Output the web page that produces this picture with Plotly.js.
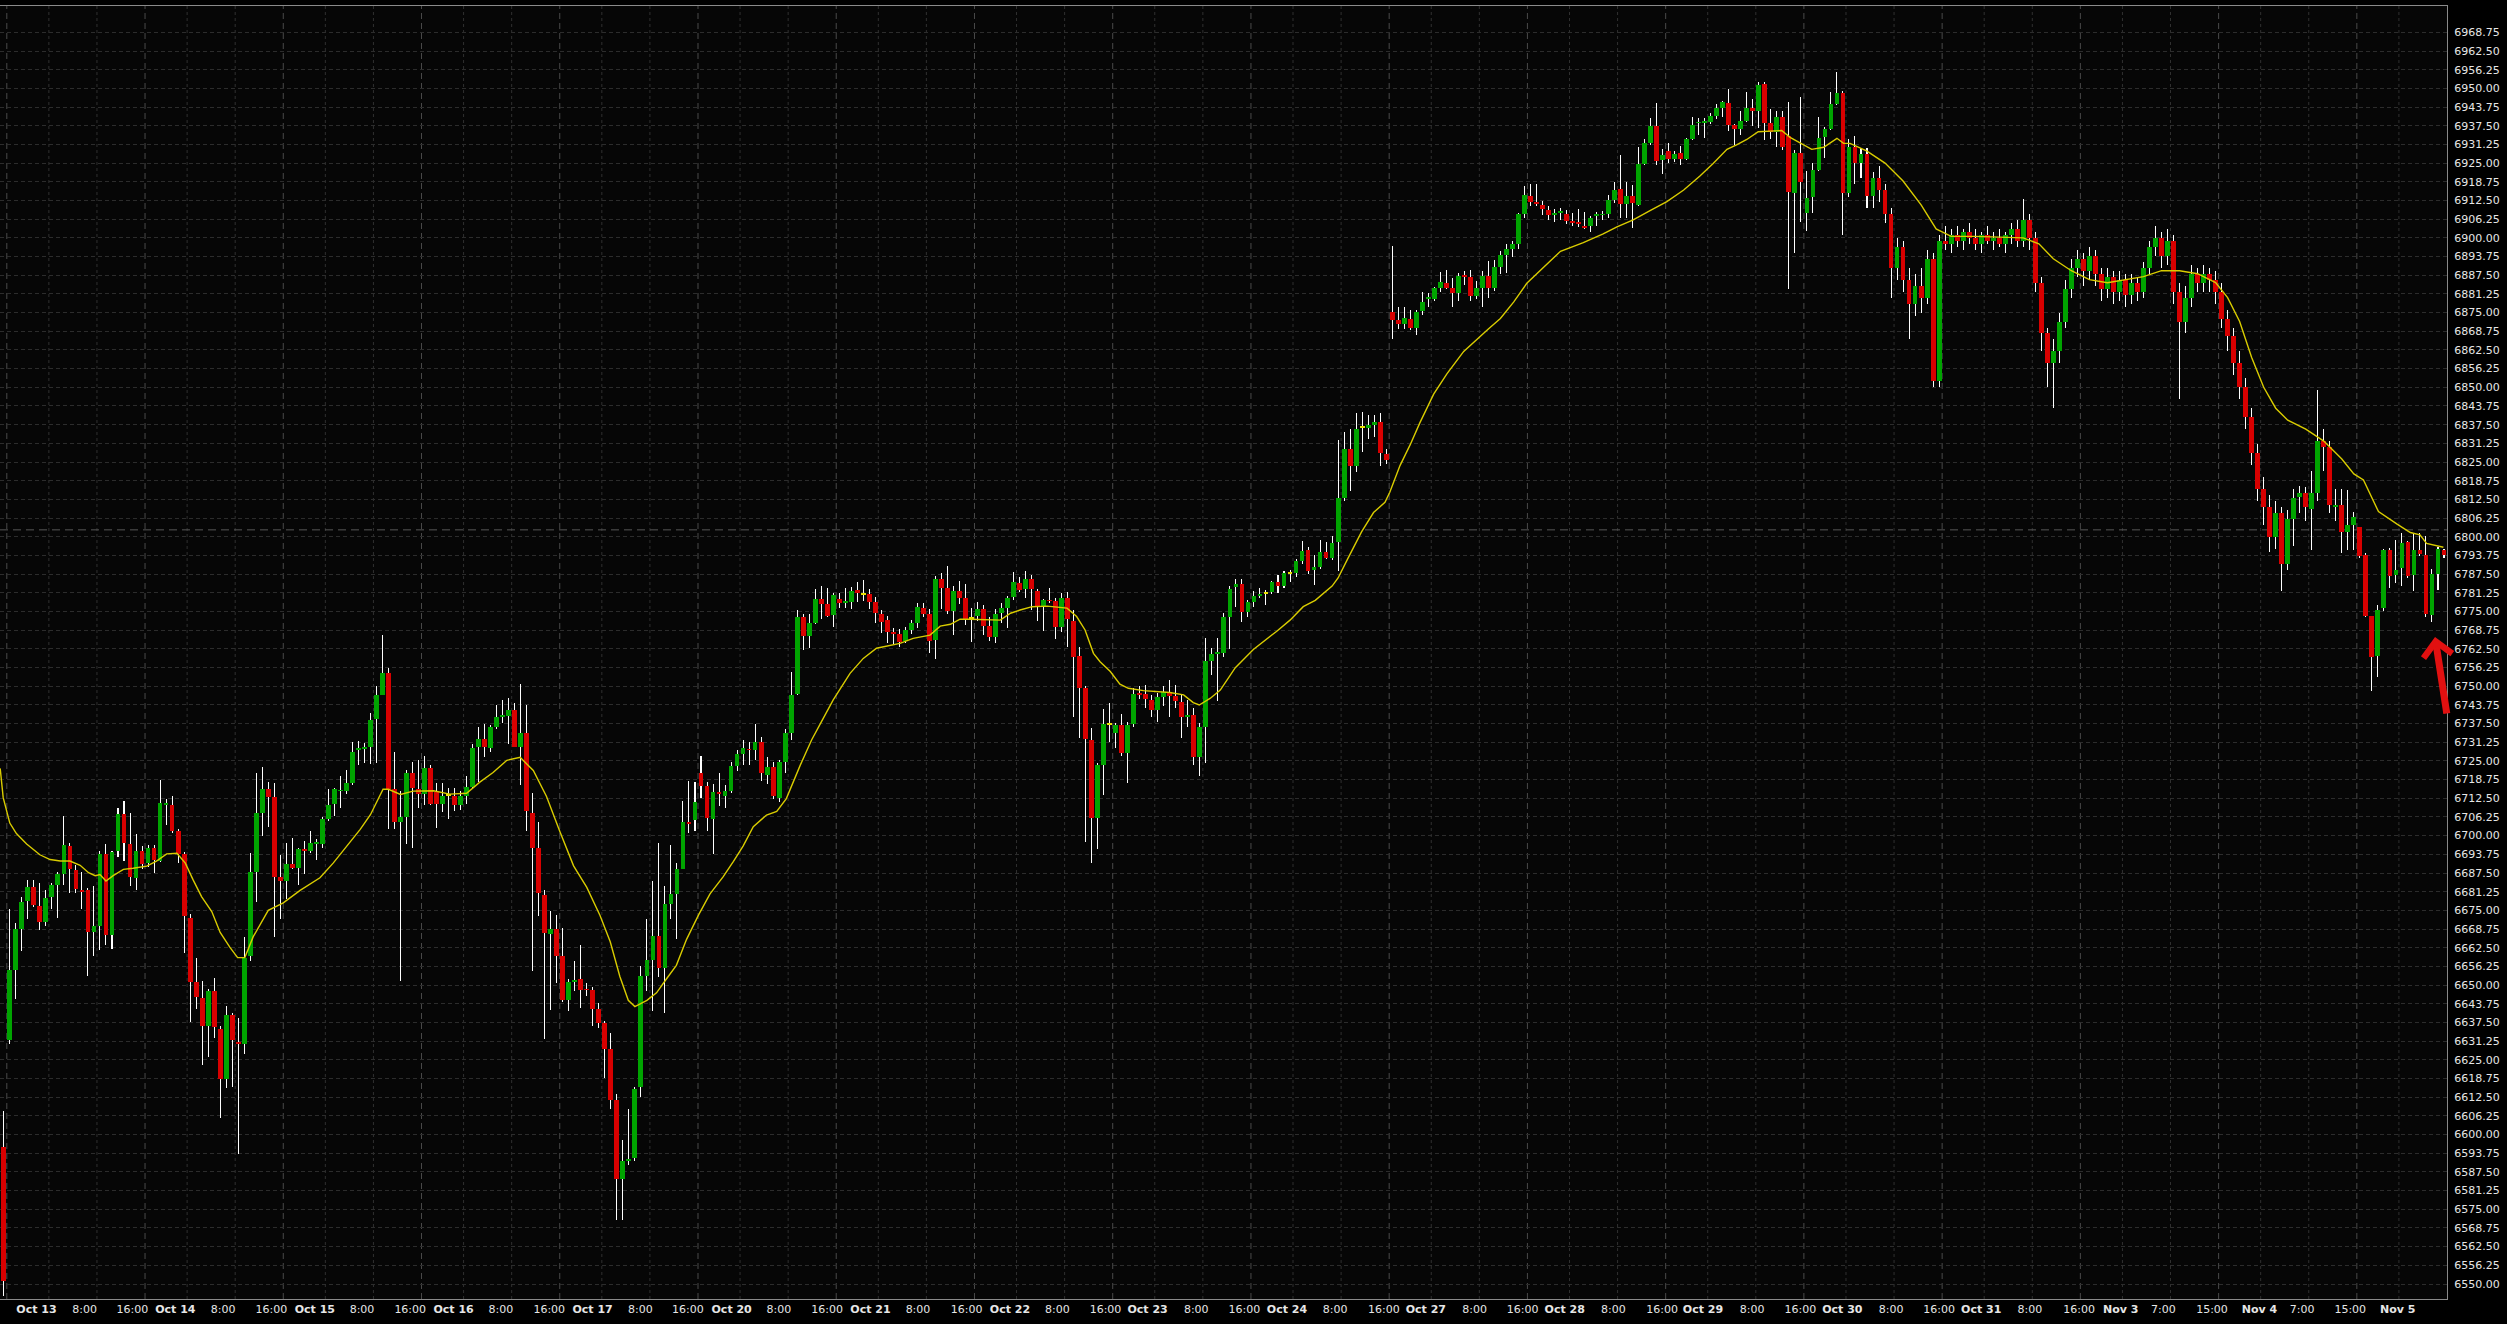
<!DOCTYPE html>
<html><head><meta charset="utf-8">
<script src="https://cdn.plot.ly/plotly-3.0.1.min.js"></script>
<style>html,body{margin:0;padding:0;background:#000;}#chart{width:2507px;height:1324px;}</style>
</head><body><div id="chart"></div>
<script>
const open = [6596,6631.7,6655.2,6668.6,6678.3,6682.7,6676.5,6671.1,6679.6,6683.4,
6687.3,6696.6,6688.4,6681.7,6681.7,6667.6,6669.7,6693.7,6666.6,6695,
6707.4,6697.2,6685.9,6694.8,6690.8,6695.8,6691.5,6710.3,6710.4,6701.4,
6693.7,6672.4,6651,6645.8,6636.3,6647.9,6635.2,6618.6,6640.1,6631,
6630.4,6659.9,6688,6707.7,6715.5,6713,6686.2,6684.8,6690.6,6689.3,
6695.5,6695,6697.2,6697.2,6705.6,6710.6,6714.8,6714.8,6717.6,6728.6,
6729,6729.5,6739,6747.2,6754.5,6715.5,6704.5,6706.3,6720.8,6715.6,
6713.9,6722.6,6714.6,6710.7,6713.4,6713.4,6710.1,6713.2,6716.3,6729.8,
6732.3,6729.4,6736.4,6739.7,6740,6742,6729.8,6734.2,6707.6,6696,
6680.2,6667.2,6668.6,6659.8,6645,6651.2,6652.2,6648.6,6648.2,6642.1,
6637.3,6628.6,6611.6,6585.1,6591.3,6592.3,6616,6653.2,6658.5,6666.4,
6655.8,6677.2,6680.5,6688.9,6704.4,6705.2,6721.1,6716.5,6705.6,6714.6,
6713.4,6714.9,6723.3,6727.4,6729,6728.5,6731.3,6720.4,6723,6712.7,
6724.5,6734.5,6747.5,6773,6766.8,6771.2,6779.2,6777.5,6773.8,6779.1,
6777.9,6778.3,6782.2,6780.5,6780.8,6778.1,6774.2,6772.1,6768,6767.5,
6765.2,6768.8,6771,6776.3,6774.2,6765.4,6785.9,6782.7,6775.3,6782,
6779.4,6772.4,6773.5,6775.7,6770.1,6766.6,6774.6,6776,6779.7,6784.4,
6782.4,6785.8,6782,6776.6,6778.8,6778.6,6769.7,6779.4,6771.9,6760.1,
6749.3,6732,6705.8,6723.6,6737,6734.4,6737,6727.5,6737.2,6747.4,
6747.4,6745.4,6742,6746.5,6748.2,6746.7,6744.8,6739.6,6740.4,6726.2,
6736.5,6758.4,6760.8,6761.2,6773.2,6783.1,6784.2,6774.9,6778.3,6780.1,
6781,6781.4,6784.8,6783.5,6787.6,6787.8,6791.9,6795.5,6788.9,6789.9,
6794.8,6793,6798.1,6812.8,6829.5,6823.5,6836.3,6836.3,6837.4,6838.4,
6827.6,6875.2,6872.5,6871.1,6872.9,6869.9,6875.4,6879.5,6879.7,6883.2,
6884.9,6883.2,6881.5,6887.5,6887,6880.4,6883.2,6887.2,6883.2,6890.4,
6894.4,6896.1,6897.9,6908,6913.9,6912.1,6910.9,6909.4,6907.6,6908.4,
6908.1,6905.7,6905.3,6903.9,6904,6907.3,6907.5,6908,6912.8,6916.2,
6911.3,6914,6911,6924.7,6931.8,6937.4,6926,6929,6926.5,6928.3,
6926.3,6932.9,6938.3,6938.5,6938.9,6940.8,6943.5,6945.2,6937.7,6936.4,
6939.1,6943.3,6942.5,6951.5,6938.5,6935.5,6940.3,6934.1,6915.1,6928.3,
6908.4,6913.8,6922.7,6933.6,6936.3,6944.8,6948.3,6914.9,6930.3,6925,
6928,6914,6920,6916,6908,6890,6897,6886,6878,6884,
6880,6893,6852,6899,6898,6901,6899,6902,6900,6898,
6901,6899,6900,6898,6901,6903,6899,6906,6900,6885,
6868,6858,6862,6872,6883,6890,6893,6889,6894,6888,
6883,6887,6882,6886,6881,6885,6882,6890,6897,6900,
6894,6899,6882,6872,6880,6888,6885,6888,6886,6882,
6873,6867,6858,6850,6840,6828,6816,6810,6800,6808,
6791,6806,6813.4,6814.5,6809.2,6814.5,6832,6830,6810.1,6810.6,
6801.7,6803.9,6803.2,6793.9,6773.5,6760.1,6776.1,6795.6,6787.2,6789.5,
6798.4,6787.2,6795.6,6793.9,6773.8,6787.7,6795.6];
const high = [6608,6675.3,6670.7,6679.4,6685,6685,6684.2,6681.7,6684.2,6688,
6706.6,6697.6,6690.1,6688,6682.5,6683,6695,6697.2,6695,6709.4,
6711.5,6707.7,6700.7,6696.5,6696.9,6696.8,6718.6,6712.4,6713.4,6702.1,
6694.6,6673.9,6658.9,6651.4,6648.6,6652.4,6636.3,6643,6640.5,6639,
6666.2,6694.3,6721.1,6722.8,6718,6717.6,6693.6,6697.5,6699.3,6696,
6698.3,6701.7,6698.8,6706.3,6715.5,6715.8,6720,6721.8,6731.3,6731.7,
6731,6741.1,6750,6767.2,6756,6727.9,6714.8,6721.8,6724.6,6725.2,
6726.6,6723.5,6717.5,6717.5,6716.1,6715.8,6715,6720.1,6730.8,6736.4,
6737.4,6737.1,6743.6,6745.5,6746.1,6744.3,6750.6,6743.6,6714.2,6704.7,
6681.7,6674.7,6673.5,6669.2,6652.2,6658,6663.4,6650.8,6649.3,6644,
6638.1,6634.1,6613.5,6598.1,6608.7,6616,6656.3,6672.1,6684.9,6697.6,
6683.1,6696.9,6690.9,6711.7,6718.2,6717.9,6726.6,6717.9,6717.2,6721.1,
6716.8,6724.7,6728.8,6732,6731.3,6737.5,6733,6726.2,6724.7,6725.2,
6735.6,6754.8,6775.5,6774.1,6774.1,6782.4,6783.5,6782.7,6781.1,6781.1,
6782.7,6783.3,6785,6785.5,6782.4,6779.9,6775.5,6773.5,6769.4,6769,
6769.7,6772.1,6777.9,6777.9,6775.7,6786.9,6788,6790.2,6783.5,6785.2,
6784.2,6776,6778.3,6777.2,6773,6775.7,6777.9,6780.2,6788.3,6786.6,
6788.7,6787.2,6782.4,6779.1,6782.7,6779.4,6781.1,6781.6,6775.5,6763.2,
6750.1,6735.9,6724.2,6742.3,6744.3,6737.6,6740.7,6738.1,6749.3,6750.1,
6750.4,6747.1,6747.6,6750.1,6752.1,6750.4,6747.1,6745.4,6742.6,6737.6,
6766,6762.7,6766,6774.6,6783.5,6785.8,6785.8,6779,6781.7,6782.8,
6782.1,6785.2,6787.2,6788.5,6788.9,6792.6,6798.5,6796.4,6794,6798.9,
6798.1,6800.3,6832.2,6835,6836.1,6841.3,6841.8,6840.8,6840.8,6841.3,
6829.5,6897.2,6877,6877,6875.9,6875.9,6881.8,6881.4,6883.6,6888.6,
6889.3,6886.6,6888.2,6889,6889.3,6885.5,6889,6892.3,6892.7,6895.5,
6897.8,6899.1,6908.4,6917.3,6918,6918,6912.2,6910.5,6909.5,6910.1,
6909.4,6908.4,6909.8,6908.7,6907.3,6908.7,6909,6914.2,6918.7,6927.7,
6918.8,6917.7,6930.3,6932.9,6940,6945.2,6929.6,6931.6,6929.2,6930.7,
6933.3,6940.5,6940,6940,6941.7,6944.8,6945.9,6949.7,6938.1,6942.5,
6948.9,6946.3,6952.2,6952.2,6943,6942.5,6942.5,6945.6,6929.4,6947,
6922.5,6925.2,6940.5,6937,6948.9,6955.6,6949.2,6933,6934,6930,
6930,6922,6924,6918,6910,6900,6899,6890,6888,6890,
6896,6895,6901,6904,6903,6904,6903,6905,6903,6902,
6904,6902,6903,6902,6905,6906,6913,6908,6902,6887,
6870,6866,6875,6886,6893,6896,6895,6897,6896,6890,
6890,6889,6889,6888,6888,6887,6892,6899,6904,6902,
6903,6901,6885,6884,6891,6890,6891,6890,6889,6885,
6876,6870,6862,6853,6843,6831,6820,6814,6812,6810,
6809,6816,6817,6816.8,6822,6849,6836,6832,6815.9,6815.9,
6815.6,6808.4,6803.4,6794.5,6773.5,6777.2,6795.8,6796.1,6798.9,6801.4,
6798.6,6800.9,6801.1,6800.3,6789.1,6796.7,6796];
const low = [6546,6630.3,6645.4,6661.3,6672.1,6676,6668.3,6669.7,6675.3,6672.3,
6683.4,6680.7,6680.7,6675.3,6653.2,6659.8,6661.7,6663.4,6662,6692.9,
6691.5,6683.1,6681.7,6688.7,6689.4,6687.6,6691.3,6703.5,6701,6690.8,
6660.6,6637.7,6642,6623.3,6626.1,6632.4,6605.6,6615.5,6615.9,6593.5,
6627.1,6658,6677.7,6700,6702.8,6666.2,6672.1,6678.9,6688.7,6683.4,
6687.3,6694.3,6691.8,6695.8,6704.9,6706.7,6709.1,6713.8,6716.9,6723.5,
6724.2,6723.9,6724.2,6747.2,6702.1,6702.1,6651.4,6697.2,6695.8,6709.2,
6710.2,6710.2,6702.7,6707.8,6705.6,6708.1,6708.5,6710.7,6716.1,6717.9,
6726.2,6727.9,6735.6,6737.8,6730.5,6730.5,6717.1,6701.6,6654.7,6673,
6631.9,6641.6,6650.8,6644.5,6641.3,6647.9,6642.5,6646.4,6636.2,6635.5,
6618.9,6608.7,6571.4,6571.4,6589.8,6591.3,6612.6,6647.9,6641.3,6652.7,
6640.6,6672.1,6665.3,6688.9,6700.8,6701.5,6712.7,6701.5,6693.9,6709.8,
6709.2,6714.1,6721.6,6723.7,6723.7,6725.2,6718.2,6717.2,6712.4,6711.4,
6720.8,6732,6747.2,6762.2,6762.8,6770.7,6772.4,6773,6769.9,6776.1,
6776.1,6775.7,6778.3,6778.6,6775.7,6771.2,6767.7,6764.6,6764.1,6763,
6764.3,6767.5,6769.4,6773,6761.2,6759,6775.7,6774.2,6767.1,6777.5,
6770.5,6764.9,6771.9,6767.1,6765.2,6764.3,6771.2,6769.4,6778.8,6781.6,
6779.4,6775.5,6771.9,6768.6,6777.9,6765.7,6768.2,6763.2,6739.6,6732.5,
6698,6690.7,6695.4,6713.6,6731.4,6729.2,6726.6,6717.5,6736.2,6745.6,
6742.6,6739.6,6738.1,6743.4,6739.6,6742.6,6732.5,6736.2,6723.6,6719.9,
6724.2,6753.7,6745.1,6759.8,6762.3,6776.6,6771.6,6773.2,6776.6,6779.4,
6777.1,6780.7,6781.2,6782.8,6784.8,6786.6,6791,6787.6,6783.9,6789.3,
6792.6,6792.3,6788.5,6812.1,6815.3,6821.7,6828.5,6832.6,6833.3,6823.5,
6824.4,6866.1,6869.5,6869.5,6869.1,6867.5,6874.3,6877,6879,6881.8,
6882.8,6876.8,6879,6884.1,6879,6879.5,6877,6880,6882.2,6888,
6888.2,6893.7,6896.4,6906.8,6910.5,6910.5,6907.7,6906,6905.4,6906,
6904.6,6904,6903.6,6903,6901.9,6904,6906,6906.8,6911.8,6906.5,
6906.5,6903.2,6910.6,6924.4,6931.1,6924.4,6921.4,6924.9,6925.5,6924.4,
6926,6932.7,6934.4,6933.3,6938.1,6939.6,6940.5,6935.9,6931.1,6934.4,
6938.9,6937.4,6936.6,6932.7,6932.9,6930.3,6929.4,6882.8,6894.8,6905.4,
6902.4,6908.2,6922.5,6926.6,6936.1,6944.4,6900.9,6913.8,6918,6920,
6910,6910,6912,6905,6880,6886,6882,6866,6874,6875,
6878,6850,6850,6896,6895,6897,6896,6898,6896,6895,
6898,6896,6897,6895,6898,6897,6897,6896,6882,6862,
6850,6843,6858,6870,6880,6887,6884,6886,6884,6879,
6880,6878,6879,6877,6878,6879,6880,6888,6894,6890,
6891,6878,6846,6868,6877,6882,6882,6882,6878,6870,
6862,6854,6846,6836,6824,6812,6804,6795,6796,6782,
6789,6797,6808,6805.1,6795.6,6812,6822,6808,6805.1,6794.7,
6795.6,6795.6,6792.8,6773,6748.5,6753,6775.3,6782.8,6784.4,6783.5,
6786.1,6782,6793.6,6773.3,6771.6,6782.2,6792.8];
const close = [6551,6654.9,6668.7,6677.9,6682.7,6676.7,6671.1,6679.2,6683.4,6687.3,
6696.9,6689,6682,6681.3,6667.9,6669.7,6694,6666.9,6694.6,6707.4,
6697.6,6686.2,6694.8,6690.4,6695.8,6692,6710.8,6710.8,6701.4,6693.7,
6673,6651,6646,6636.3,6647.9,6635.9,6618.6,6640.1,6631.7,6630.4,
6659,6688,6707.7,6715.5,6713,6686.3,6684.8,6690.6,6689.3,6695.5,
6695,6697.6,6697.6,6705.6,6710.1,6715.5,6715.2,6717.6,6728.1,6729.3,
6729.5,6738.7,6746.9,6754.5,6715.5,6704.5,6706.3,6720.8,6715.8,6713.9,
6722.6,6710.7,6710.7,6713.2,6713.4,6710.1,6713.2,6716.3,6729.4,6732.3,
6729.8,6736.4,6739.6,6740.3,6742,6729.8,6734.2,6708.1,6696,6680.8,
6667.5,6668.6,6659.9,6645,6651.2,6651.8,6648.3,6648.2,6642.1,6637.3,
6628.6,6611.6,6585.1,6591.3,6591.9,6615.2,6653.2,6658.5,6666.4,6655.6,
6677.2,6680.5,6688.9,6704.4,6703.9,6711.3,6716.5,6705.9,6714.6,6713.9,
6714.9,6723.3,6727.4,6729.4,6728.5,6731.3,6720.8,6723,6713.2,6724.5,
6734.2,6747.2,6773,6766.8,6771.2,6779.2,6777.5,6773.5,6780.5,6777.9,
6778.3,6782,6781.1,6780.5,6778.3,6774.6,6771.6,6768.2,6767.6,6764.9,
6768.8,6771,6776.4,6774.2,6765.2,6785.9,6782.7,6775.3,6782,6779.4,
6772.4,6772.4,6775.7,6770.1,6766.6,6774.2,6776,6779.4,6784.7,6782.2,
6785.8,6782.4,6776.8,6778.8,6778.4,6769.7,6779.4,6772.4,6759.9,6749.3,
6732.2,6705.8,6723.6,6737.3,6737,6737,6727.5,6737,6747.4,6747,
6745.6,6742,6746.3,6748.2,6746.7,6745,6739.6,6740,6726.2,6736.5,
6758.4,6760.8,6761.2,6773.2,6782.5,6784.2,6774.9,6778,6780.1,6781,
6781,6784.8,6783.5,6787.8,6787.6,6791.9,6795.1,6788.5,6789.9,6794.8,
6793,6797.8,6812.8,6829.5,6823.8,6836.1,6836.3,6837.4,6838.4,6827.9,
6825.8,6872.6,6871.1,6873.2,6869.9,6875.2,6878.7,6880,6883.2,6885.2,
6883.2,6881.5,6887.2,6887,6880.7,6883.2,6887.2,6883.2,6890.4,6894.1,
6896.1,6897.9,6908,6914.2,6912.1,6911.4,6909.5,6907.7,6908,6908.8,
6905.7,6905.1,6904.6,6903.4,6906.8,6907.7,6908,6912.8,6916,6911.3,
6914,6911.5,6924.7,6931.8,6937.4,6925.8,6927.7,6926.3,6928,6926.3,
6932.9,6937.7,6938.9,6939.1,6940.8,6943.3,6945.3,6937.7,6936.4,6939.1,
6943.3,6942.5,6951.1,6938.5,6935.5,6940.3,6930.5,6915.4,6928.3,6918.8,
6913.2,6922.7,6933.3,6936.3,6944.8,6948.3,6914.9,6930.3,6925,6928,
6914,6920,6916,6908,6890,6897,6886,6878,6884,6880,
6893,6852,6899,6898,6901,6899,6902,6900,6898,6901,
6899,6900,6898,6901,6903,6899,6906,6900,6885,6868,
6858,6862,6872,6883,6890,6893,6889,6894,6888,6883,
6887,6882,6886,6881,6885,6882,6890,6897,6900,6894,
6899,6882,6872,6880,6888,6885,6888,6886,6882,6873,
6867,6858,6850,6840,6828,6816,6810,6800,6808,6791,
6806,6813,6814.5,6809.8,6814.5,6832,6830,6810.5,6810.6,6801.7,
6803.9,6806.7,6793.6,6773.5,6759.9,6775.5,6795.6,6787,6788.9,6798,
6787,6795.4,6794.2,6774.2,6787.4,6795.9,6793.9];

const maX = [-0.6,-0.1,1,2.1,3.8,6,7.7,9.4,11,12.7,14.1,15.2,16,17,18.2,19.9,21.5,23.8,25.4,27.1,28.8,30.2,31.5,32.9,34.6,36,37.6,38.9,40.1,41.5,44,46.5,49.3,52.6,54.8,57.1,59.3,61,63.1,64,66,68.1,71.5,74.2,77,79.2,81.4,83.7,85.9,88.1,90.3,92.5,94.8,97,99.2,100.9,102.5,103.9,105,107,108.6,110.3,111.9,113.6,115.6,117.5,119.7,121.4,123,124.7,126.9,128.6,130.2,132.5,134.4,136,138,140.8,143,145.2,147.2,149.1,151.3,154.1,155.8,157.5,159.1,160.8,165.8,167.5,169.1,171.1,173.6,176.9,178.5,179.9,181.3,182.4,184.1,185.7,187.1,189.6,194,196.3,197.9,198.9,200.7,202.4,204.9,207.9,211.8,214,216.2,218.2,221,222,223.7,225.9,227.9,229.8,230.6,232.3,234,235.6,237.9,240.1,242.9,245.1,247,249,251.2,253.4,256.2,259,262.8,266.1,268.4,271.1,273.9,276.7,279.5,282.2,284.4,286.7,288.3,290,291.9,293.9,295.8,297.2,298.9,300.8,302.8,305,306.1,307.2,310,313,316,319,321.5,324,328,332,336,338.6,341,344,347,350,353,356,359,362,365,368,370,372,374,376,378,380,383,386,389,391,392.6,395.1,398.2,400.4,402,403.1,405.9];
const maY = [6722.5,6712.7,6704.2,6700.7,6697.2,6693.6,6692,6691.5,6691.5,6690.1,6687.6,6686.6,6687,6684.8,6686.6,6688.7,6689.1,6689.8,6691.5,6693.9,6694.1,6690.8,6685.2,6679.6,6674.6,6667.6,6662.7,6659.2,6659.2,6666.2,6675,6677.5,6681.7,6685.9,6690.8,6696.5,6702.1,6707,6715.5,6715.5,6713.8,6714.9,6715,6713.9,6714.2,6717.9,6721.1,6725.2,6726.2,6721.8,6713.1,6701.5,6689.9,6682.7,6673.3,6664.5,6652.9,6644.9,6642.8,6644.9,6647.4,6652.2,6656.6,6665.3,6673.5,6680.5,6686.3,6691.4,6696.5,6703,6706.9,6708.1,6712.4,6723.5,6732,6738,6745.4,6754.3,6759.3,6762.7,6763.4,6764.3,6766,6767.1,6770.1,6770.7,6772.4,6772.4,6772.1,6774.4,6775.5,6776.6,6776.8,6776.1,6773.3,6768.8,6761,6758.2,6754.9,6750.7,6749.3,6748.5,6747.9,6747.1,6744.5,6743.7,6745.9,6748.7,6756.2,6762.3,6768.4,6772.1,6776.6,6778.7,6783.5,6786.2,6793,6801.6,6808.1,6811.5,6814.9,6823.8,6830.8,6838.1,6847.7,6854.5,6862,6866.1,6869.5,6873,6878.5,6884.8,6890.3,6895.5,6898.4,6901.3,6903.7,6906,6909.1,6912.1,6916,6920.7,6924.9,6929.6,6931.1,6932.9,6935.5,6935.7,6935.9,6933.6,6931.8,6929.6,6930.3,6933.3,6931.6,6931.6,6929,6925,6919,6911,6903,6900.5,6900.5,6900.3,6900,6898,6893,6889,6886,6885,6886,6887,6889,6889,6888,6885,6880,6872,6860,6850,6843,6839,6836,6832,6826,6821,6819,6808.4,6804.2,6801.4,6800.6,6797.8,6796.5];

const xTickVals = [5.44,13.46,21.4,28.54,36.5,44.53,51.75,59.6,67.62,74.84,82.7,90.75,97.97,105.9,113.8,121.1,128.95,137.0,144.2,152.1,160.2,167.4,175.3,183.3,190.3,198.4,206.4,213.5,221.5,229.6,236.6,244.7,252.7,259.7,267.8,275.9,282.7,290.9,298.9,305.9,314.0,322.0,329.0,337.1,345.3,352.2,359.3,367.4,375.3,382.4,390.4,398.3];
const xTickText = ['<b>Oct 13</b>','8:00','16:00','<b>Oct 14</b>','8:00','16:00','<b>Oct 15</b>','8:00','16:00','<b>Oct 16</b>','8:00','16:00','<b>Oct 17</b>','8:00','16:00','<b>Oct 20</b>','8:00','16:00','<b>Oct 21</b>','8:00','16:00','<b>Oct 22</b>','8:00','16:00','<b>Oct 23</b>','8:00','16:00','<b>Oct 24</b>','8:00','16:00','<b>Oct 27</b>','8:00','16:00','<b>Oct 28</b>','8:00','16:00','<b>Oct 29</b>','8:00','16:00','<b>Oct 30</b>','8:00','16:00','<b>Oct 31</b>','8:00','16:00','<b>Nov 3</b>','7:00','15:00','<b>Nov 4</b>','7:00','15:00','<b>Nov 5</b>'];
const yTickVals = [6550,6556.25,6562.5,6568.75,6575,6581.25,6587.5,6593.75,6600,6606.25,6612.5,6618.75,6625,6631.25,6637.5,6643.75,6650,6656.25,6662.5,6668.75,6675,6681.25,6687.5,6693.75,6700,6706.25,6712.5,6718.75,6725,6731.25,6737.5,6743.75,6750,6756.25,6762.5,6768.75,6775,6781.25,6787.5,6793.75,6800,6806.25,6812.5,6818.75,6825,6831.25,6837.5,6843.75,6850,6856.25,6862.5,6868.75,6875,6881.25,6887.5,6893.75,6900,6906.25,6912.5,6918.75,6925,6931.25,6937.5,6943.75,6950,6956.25,6962.5,6968.75];
const crossPrice = 6802.3;

const GREEN = '#00a400', RED = '#d80000', YELLOW = '#e8e000';
const idx = open.map((_, i) => i);
const bodyBase = open.map((o, i) => Math.min(o, close[i]));
const bodySize = open.map((o, i) => Math.max(Math.abs(close[i] - o), 0.6));
const bodyColor = open.map((o, i) => close[i] > o ? GREEN : (close[i] < o ? RED : YELLOW));
const wickBase = low.slice();
const wickSize = high.map((h, i) => h - low[i]);

const traces = [
  {type:'bar', x: idx, base: wickBase, y: wickSize, width: 0.17,
   marker:{color:'#ffffff', line:{width:0}}, hoverinfo:'skip'},
  {type:'bar', x: idx, base: bodyBase, y: bodySize, width: 0.8,
   marker:{color: bodyColor, line:{width:0}}, hoverinfo:'skip'},
  {type:'scatter', mode:'lines', x: maX, y: maY,
   line:{color:'#d9cc00', width:1.4}, hoverinfo:'skip'}
];

const shapes = [];
for (let k = 0; k < 18; k++) {
  const d = 0.5 + 23 * k;
  shapes.push({type:'line', xref:'x', yref:'paper', x0:d, x1:d, y0:0, y1:1, layer:'below',
    line:{color:'#4a4a4a', width:1, dash:'6px,4px'}});
  [7, 15].forEach(o => {
    if (d + o < 406) shapes.push({type:'line', xref:'x', yref:'paper', x0:d+o, x1:d+o, y0:0, y1:1, layer:'below',
      line:{color:'#303030', width:1, dash:'3px,3px'}});
  });
}
shapes.push({type:'line', xref:'paper', yref:'y', x0:0, x1:1, y0:crossPrice, y1:crossPrice, layer:'below',
  line:{color:'#585858', width:1, dash:'8px,5px'}});

const layout = {
  width: 2507, height: 1324,
  paper_bgcolor:'#000000', plot_bgcolor:'#060606',
  margin:{l:0, r:60, t:6, b:25, pad:0},
  showlegend:false, barmode:'overlay', bargap:0,
  xaxis:{type:'linear', range:[-0.632, 406.5], tickmode:'array', tickvals:xTickVals, ticktext:xTickText,
    showgrid:false, zeroline:false, showline:true, mirror:true, linecolor:'#8a8a8a', linewidth:1,
    ticks:'', tickangle:0, tickfont:{family:'DejaVu Sans', size:11, color:'#e6e6e6'}},
  yaxis:{side:'right', range:[6544.98, 6977.56], tickmode:'array', tickvals:yTickVals, tickformat:'.2f',
    showgrid:true, gridcolor:'#2c2c2c', griddash:'4px,3px', gridwidth:1, zeroline:false,
    showline:true, mirror:true, linecolor:'#8a8a8a', linewidth:1, ticks:'',
    ticklabelstandoff:4, tickfont:{family:'DejaVu Sans', size:11, color:'#e6e6e6'}},
  shapes: shapes,
  annotations:[{xref:'paper', yref:'paper', x:2435/2447, y:(1299-637)/1293,
    axref:'pixel', ayref:'pixel', ax:12, ay:78, text:'', showarrow:true,
    arrowhead:4, arrowsize:0.8, arrowwidth:7, arrowcolor:'#e21010', standoff:0}]
};
Plotly.newPlot('chart', traces, layout, {displayModeBar:false, staticPlot:true});
</script></body></html>
